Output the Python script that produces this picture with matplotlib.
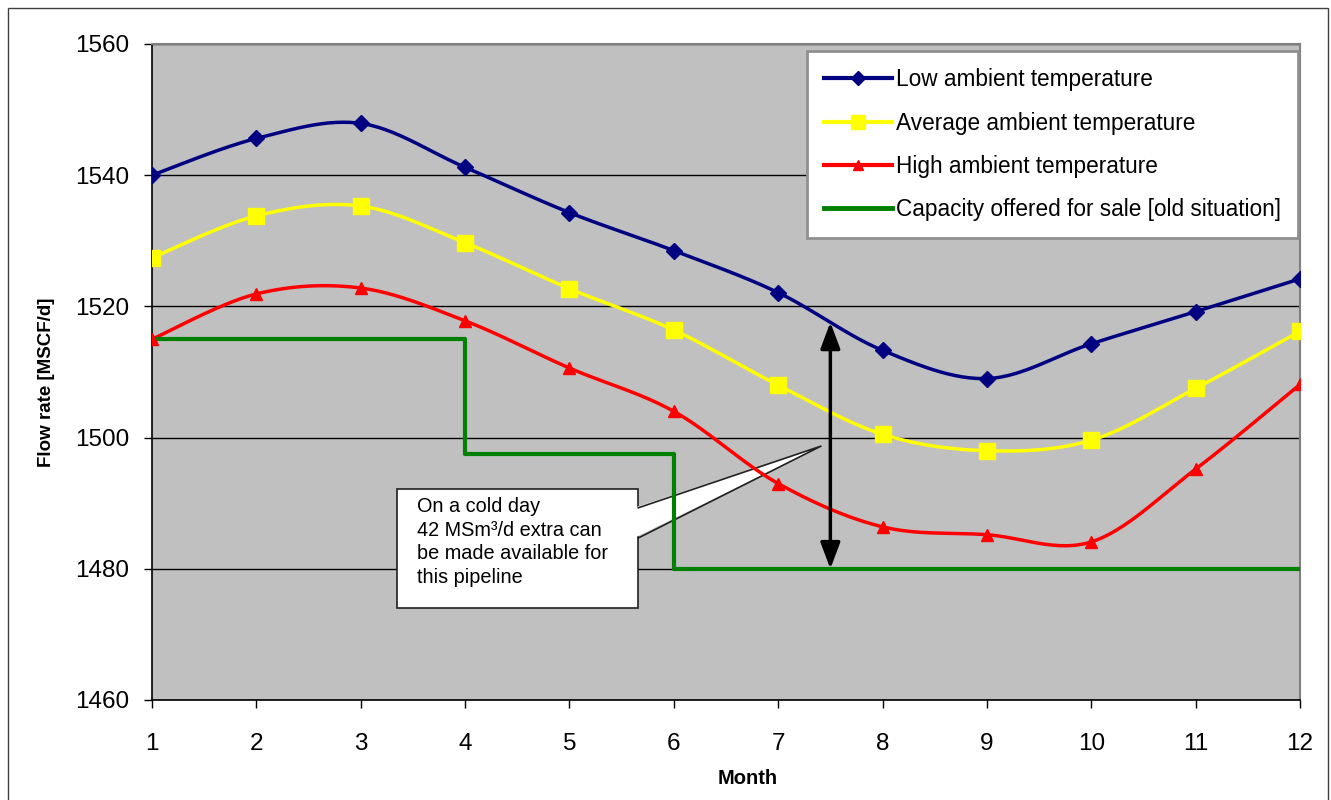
import numpy as np
import matplotlib
matplotlib.use('Agg')
import matplotlib.pyplot as plt
from matplotlib.lines import Line2D
from matplotlib.patches import Rectangle, Polygon

plt.rcParams['font.family'] = ['Liberation Sans', 'DejaVu Sans']

# data
months = np.arange(1, 13)
low_temp = [1540.0, 1545.6, 1547.9, 1541.2, 1534.3, 1528.5, 1522.1, 1513.3, 1509.0, 1514.3, 1519.2, 1524.2]
avg_temp = [1527.4, 1533.8, 1535.3, 1529.7, 1522.7, 1516.4, 1508.0, 1500.5, 1498.0, 1499.6, 1507.5, 1516.2]
high_temp = [1515.0, 1521.9, 1522.8, 1517.8, 1510.6, 1504.0, 1493.0, 1486.4, 1485.2, 1484.1, 1495.2, 1508.1]
capacity = [1515, 1515, 1515, 1497.5, 1497.5, 1480, 1480, 1480, 1480, 1480, 1480, 1480]

labels = ['Low ambient temperature', 'Average ambient temperature',
          'High ambient temperature', 'Capacity offered for sale [old situation]']
yticks = [1460, 1480, 1500, 1520, 1540, 1560]
note = 'On a cold day\n42 MSm\u00b3/d extra can\nbe made available for\nthis pipeline'


def smooth(x, y, n=30):
    # excel style smoothed line (bezier with catmull-rom control points)
    x = np.asarray(x, float)
    y = np.asarray(y, float)
    p = np.column_stack([np.r_[x[0], x, x[-1]], np.r_[y[0], y, y[-1]]])
    t = np.linspace(0, 1, n)[:, None]
    out = []
    for i in range(len(x) - 1):
        p0, p3 = p[i + 1], p[i + 2]
        c1 = p0 + (p[i + 2] - p[i]) / 6
        c2 = p3 - (p[i + 3] - p[i + 1]) / 6
        seg = (1 - t) ** 3 * p0 + 3 * (1 - t) ** 2 * t * c1 + 3 * (1 - t) * t ** 2 * c2 + t ** 3 * p3
        out.append(seg if i == 0 else seg[1:])
    out = np.vstack(out)
    return out[:, 0], out[:, 1]


fig = plt.figure(figsize=(13.31, 8), dpi=100)
ax = fig.add_axes([0.1142, 0.125, 0.8625, 0.82])
ax.set_facecolor('#C0C0C0')

series = [
    (low_temp, '#000080', 'D', 8.5),
    (avg_temp, '#FFFF00', 's', 12),
    (high_temp, '#FF0000', '^', 9),
]
handles = []
for vals, col, mk, ms in series:
    sx, sy = smooth(months, vals)
    ax.plot(sx, sy, color=col, lw=2.5, zorder=3, solid_capstyle='round')
    ax.plot(months, vals, linestyle='none', marker=mk, ms=ms, color=col, zorder=4)
    handles.append(Line2D([], [], color=col, lw=3, marker=mk, ms=ms * 0.85))

ax.plot(months, capacity, drawstyle='steps-post', color='#008000', lw=3, zorder=3)
handles.append(Line2D([], [], color='#008000', lw=3.5))

# double arrow between blue curve and capacity at month 7.5
lx, ly = smooth(months, low_temp)
top = np.interp(7.5, lx, ly)
ax.annotate('', xy=(7.5, top), xytext=(7.5, capacity[-1]),
            arrowprops=dict(arrowstyle='<|-|>,head_length=0.8,head_width=0.3', color='black',
                            lw=2.5, mutation_scale=20, shrinkA=0, shrinkB=0), zorder=5)

# callout box with pointer
ax.add_patch(Rectangle((3.35, 1474.0), 2.31, 18.1, facecolor='white', edgecolor='#202020',
                       lw=1.2, zorder=2))
ax.add_patch(Polygon([(5.62, 1489.3), (7.41, 1498.7), (5.62, 1484.7)], closed=True,
                     facecolor='white', edgecolor='none', zorder=2.1))
ax.plot([5.66, 7.41, 5.66], [1489.3, 1498.7, 1484.7], color='#202020', lw=1.2, zorder=2.2)
ax.text(3.54, 1490.9, note, ha='left', va='top', fontsize=14.3, linespacing=1.3, zorder=2.3)

ax.set_xlim(1, 12)
ax.set_ylim(1460, 1560)
ax.set_xticks(months)
ax.set_yticks(yticks)
ax.yaxis.grid(True, color='black', lw=1)
ax.set_axisbelow(True)
ax.tick_params(axis='y', direction='out', length=6, width=1, labelsize=17.5, pad=10.5)
ax.tick_params(axis='x', direction='out', length=6, width=1, labelsize=17.5, pad=18)
for s in ['left', 'bottom']:
    ax.spines[s].set_color('black')
    ax.spines[s].set_linewidth(1.2)
for s in ['top', 'right']:
    ax.spines[s].set_color('#808080')
    ax.spines[s].set_linewidth(1.5)

leg = ax.legend(handles, labels, loc='upper right', bbox_to_anchor=(0.9985, 0.989),
                borderaxespad=0, fontsize=16.3, frameon=True, fancybox=False, framealpha=1,
                handlelength=3.0, handletextpad=0.2, labelspacing=0.9, borderpad=0.75)
leg.get_frame().set_edgecolor('#909090')
leg.get_frame().set_linewidth(2)
leg.set_zorder(10)

fig.text(748 / 1331, 1 - 778 / 800, 'Month', ha='center', va='center',
         fontsize=14.5, weight='bold')
fig.text(47 / 1331, 1 - 382 / 800, 'Flow rate [MSCF/d]', ha='center', va='center',
         fontsize=13.5, weight='bold', rotation=90)

fig.add_artist(Rectangle((8 / 1331, -0.02), 1320 / 1331, 1.01, transform=fig.transFigure,
                         fill=False, edgecolor='#404040', lw=1))

fig.savefig('out.png', dpi=100, facecolor='white')
